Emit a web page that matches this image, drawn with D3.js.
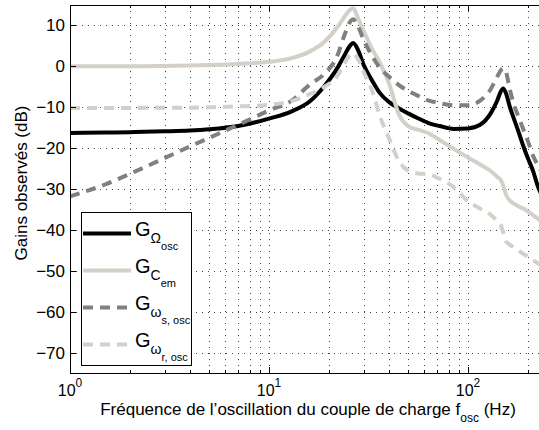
<!DOCTYPE html>
<html>
<head>
<meta charset="utf-8">
<script src="https://cdn.jsdelivr.net/npm/d3@7"></script>
<style>
	body { margin: 0; background: #fff; }
	text { font-family: "Liberation Sans", Arial, Helvetica, sans-serif; fill: #000; }
</style>
</head>
<body>
<svg id="chart"></svg>
<script>
// frequencies (Hz), shared by all four curves
const freqs = [1, 1.5, 2, 3, 4, 5, 7, 10, 13, 16, 19, 22, 24, 25.5, 26.5, 28, 30, 33, 36, 40,
	45, 50, 56, 63, 72, 85, 100, 115, 130, 140, 146, 150, 155, 162, 170, 180, 190, 200, 212, 225, 235];

// gains in dB
const gOmega = [-16.3, -16.2, -16.1, -15.9, -15.7, -15.4, -14.6, -12.8, -11.0, -8.6, -4.8, -0.5, 2.8, 5.0, 5.7, 4.0, 0.2, -3.5, -6.5, -8.7,
	-10.3, -11.5, -12.7, -13.8, -14.6, -15.3, -15.2, -14.3, -11.5, -8.5, -6.2, -5.4, -6.5, -9.8, -12.8, -16.2, -19.6, -22.5, -25.5, -29.5, -31.5];
const gCem = [0, 0, 0, 0.1, 0.2, 0.3, 0.6, 1.1, 2.0, 3.6, 6.0, 9.5, 12.2, 13.8, 14.2, 11.8, 8.5, 4.2, 1.0, -4.0,
	-11.8, -14.6, -15.5, -16.3, -18.0, -20.2, -22.3, -24.0, -25.6, -27.0, -27.8, -29.0, -31.3, -32.8, -33.6, -34.3, -34.8, -35.5, -36.4, -37.3, -38.0];
const gWs = [-31.8, -28.9, -26.3, -22.4, -19.6, -17.5, -14.3, -10.8, -8.4, -4.5, -1.8, 2.5, 7.8, 10.8, 11.5, 9.8, 6.3, 2.5, -0.3, -2.5,
	-4.6, -6.0, -7.2, -8.3, -9.0, -9.5, -9.5, -8.4, -5.6, -2.6, -1.0, -0.5, -1.3, -5.5, -9.3, -12.5, -15.5, -18.3, -21.8, -24.3, -26.0];
const gWr = [-10.2, -10.2, -10.2, -10.1, -10.1, -10.0, -9.8, -9.4, -8.5, -6.8, -5.0, -2.4, 0.8, 2.8, 3.2, 1.8, -1.5, -6.0, -12.0, -17.5,
	-23.2, -25.5, -26.2, -26.4, -27.5, -29.6, -33.0, -34.8, -36.3, -37.8, -38.8, -40.5, -42.8, -43.6, -44.3, -45.1, -45.9, -46.5, -47.4, -48.2, -48.8];

const yTicks = [10, 0, -10, -20, -30, -40, -50, -60, -70];
const xDecades = [1, 10, 100];

// legend text: G with nested subscripts
const series = [
	{ values: gOmega, color: "#000000", dash: null, sub1: "Ω", sub2: "osc" },
	{ values: gCem, color: "#d4d0c8", dash: null, sub1: "C", sub2: "em" },
	{ values: gWs, color: "#808080", dash: "10,7", sub1: "ω", sub2: "s, osc" },
	{ values: gWr, color: "#d4d0c8", dash: "10,7", sub1: "ω", sub2: "r, osc" }
];

const width = 539, height = 430;
const marginTop = 5, marginLeft = 70, plotBottom = 373;
const decadePx = 199;

const x = d3.scaleLog([1, 10 ** 2.5], [marginLeft, marginLeft + decadePx * 2.5]);
const y = d3.scaleLinear([-75, 15], [plotBottom, marginTop]);
const plotRight = x.range()[1];

const svg = d3.select("#chart")
	.attr("width", width)
	.attr("height", height)
	.attr("viewBox", [0, 0, width, height]);

svg.append("defs").append("clipPath")
	.attr("id", "plot-clip")
	.append("rect")
	.attr("x", marginLeft)
	.attr("y", marginTop)
	.attr("width", plotRight - marginLeft)
	.attr("height", plotBottom - marginTop);

// dotted grid
const grid = svg.append("g");

grid.selectAll(".vgrid")
	.data(x.ticks().filter(d => d > 1))
	.join("line")
	.attr("x1", d => Math.round(x(d)) + 0.5)
	.attr("x2", d => Math.round(x(d)) + 0.5)
	.attr("y1", marginTop)
	.attr("y2", plotBottom)
	.attr("stroke", "#444")
	.attr("stroke-width", 1)
	.attr("stroke-dasharray", "1,5");

grid.selectAll(".hgrid")
	.data(yTicks)
	.join("line")
	.attr("x1", marginLeft)
	.attr("x2", plotRight)
	.attr("y1", d => Math.round(y(d)) + 0.5)
	.attr("y2", d => Math.round(y(d)) + 0.5)
	.attr("stroke", "#444")
	.attr("stroke-width", 1)
	.attr("stroke-dasharray", "1,5");

// curves
const line = d3.line()
	.x((d, i) => x(freqs[i]))
	.y(d => y(d))
	.curve(d3.curveMonotoneX);

const curves = svg.append("g").attr("clip-path", "url(#plot-clip)");
series.forEach(s => {
	curves.append("path")
		.datum(s.values)
		.attr("fill", "none")
		.attr("stroke", s.color)
		.attr("stroke-width", 4)
		.attr("stroke-linejoin", "round")
		.attr("stroke-dasharray", s.dash)
		.attr("d", line);
});

// axes box (left, bottom, top)
const frame = svg.append("g").attr("stroke", "#000").attr("stroke-width", 1);
frame.append("line").attr("x1", marginLeft + 0.5).attr("x2", marginLeft + 0.5).attr("y1", marginTop).attr("y2", plotBottom + 0.5);
frame.append("line").attr("x1", marginLeft).attr("x2", width).attr("y1", plotBottom + 0.5).attr("y2", plotBottom + 0.5);
frame.append("line").attr("x1", marginLeft).attr("x2", width).attr("y1", marginTop + 0.5).attr("y2", marginTop + 0.5);

// inward ticks, longer at decades
const xt = x.ticks();
frame.selectAll(".xtick-b")
	.data(xt)
	.join("line")
	.attr("x1", d => Math.round(x(d)) + 0.5)
	.attr("x2", d => Math.round(x(d)) + 0.5)
	.attr("y1", plotBottom)
	.attr("y2", d => plotBottom - (xDecades.includes(d) ? 6 : 3));
frame.selectAll(".xtick-t")
	.data(xt)
	.join("line")
	.attr("x1", d => Math.round(x(d)) + 0.5)
	.attr("x2", d => Math.round(x(d)) + 0.5)
	.attr("y1", marginTop)
	.attr("y2", d => marginTop + (xDecades.includes(d) ? 6 : 3));
frame.selectAll(".ytick")
	.data(yTicks)
	.join("line")
	.attr("x1", marginLeft)
	.attr("x2", marginLeft + 6)
	.attr("y1", d => Math.round(y(d)) + 0.5)
	.attr("y2", d => Math.round(y(d)) + 0.5);

// tick labels
svg.append("g")
	.selectAll("text")
	.data(yTicks)
	.join("text")
	.attr("x", marginLeft - 5)
	.attr("y", d => y(d) + 6)
	.attr("text-anchor", "end")
	.style("font-size", "17px")
	.text(d => d < 0 ? "\u2212" + Math.abs(d) : d);

const xLabels = svg.append("g")
	.selectAll("text")
	.data(xDecades)
	.join("text")
	.attr("x", d => x(d))
	.attr("y", 396)
	.attr("text-anchor", "middle")
	.style("font-size", "16px");
xLabels.append("tspan").text("10");
xLabels.append("tspan")
	.attr("dy", -9)
	.style("font-size", "12px")
	.text(d => Math.round(Math.log10(d)));

// axis titles
const xTitle = svg.append("text")
	.attr("x", 308)
	.attr("y", 415)
	.attr("text-anchor", "middle")
	.style("font-size", "17px");
xTitle.append("tspan").text("Fréquence de l’oscillation du couple de charge f");
xTitle.append("tspan").attr("dy", 7).style("font-size", "12px").text("osc");
xTitle.append("tspan").attr("dy", -7).text(" (Hz)");

svg.append("text")
	.attr("transform", "translate(27,183) rotate(-90)")
	.attr("text-anchor", "middle")
	.style("font-size", "17px")
	.text("Gains observés (dB)");

// legend
const legend = svg.append("g");
legend.append("rect")
	.attr("x", 81.5)
	.attr("y", 212.5)
	.attr("width", 110)
	.attr("height", 153)
	.attr("fill", "#fff")
	.attr("stroke", "#000");

series.forEach((s, i) => {
	const ly = 233.5 + i * 37;
	legend.append("line")
		.attr("x1", 83)
		.attr("x2", 131)
		.attr("y1", ly)
		.attr("y2", ly)
		.attr("stroke", s.color)
		.attr("stroke-width", 4)
		.attr("stroke-dasharray", s.dash);
	const t = legend.append("text")
		.attr("x", 135)
		.attr("y", ly + 2);
	t.append("tspan").style("font-size", "20px").text("G");
	t.append("tspan").attr("dy", 7).style("font-size", "14px").text(s.sub1);
	t.append("tspan").attr("dy", 7).style("font-size", "11px").text(s.sub2);
});
</script>
</body>
</html>
